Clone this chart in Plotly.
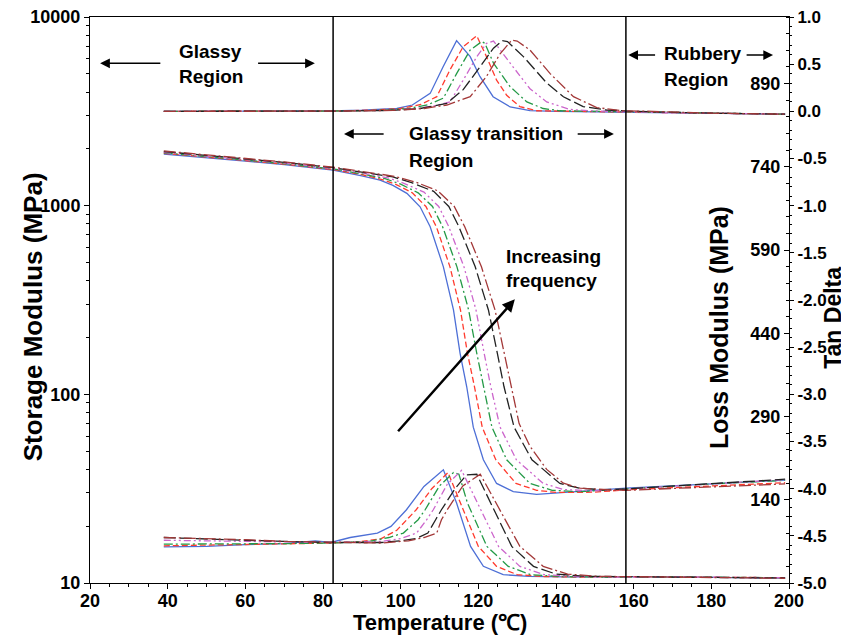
import plotly.graph_objects as go

# ---------------- data ----------------
# (temperature degC, storage modulus MPa)
STORAGE_1 = [(39, 1876), (50, 1800), (60, 1722), (70, 1650), (82.6, 1545), (90, 1440), (94.7, 1367), (98, 1280),
             (101.6, 1162), (105, 986), (107.6, 773), (111, 474), (113.6, 280), (115.3, 165), (117, 110),
             (118.7, 67), (121.3, 45), (124.7, 33.7), (129, 30.5), (135, 29.5), (146, 30.5), (158, 31.8),
             (180, 33.5), (199, 35.1)]
STORAGE_2 = [(39, 1895), (50, 1815), (60, 1735), (70, 1660), (82.6, 1555), (90, 1460), (95, 1380), (99, 1290),
             (103, 1170), (106.5, 990), (109.2, 773), (112.7, 474), (115.4, 280), (117.2, 165), (119, 110),
             (121, 67), (124.5, 45), (129.7, 33.7), (135, 31), (140, 30.2), (150, 30.3), (158, 31.2),
             (180, 32.8), (199, 34)]
STORAGE_3 = [(39, 1905), (50, 1825), (60, 1745), (70, 1670), (82.6, 1565), (90, 1475), (96, 1390), (100, 1300),
             (104.5, 1170), (108.2, 990), (110.8, 773), (114.5, 474), (117.5, 280), (119.6, 165), (121.3, 110),
             (123.5, 67), (127.3, 45), (133.3, 33.7), (139, 31), (146, 30.5), (158, 31.5), (180, 33.5),
             (199, 35)]
STORAGE_4 = [(39, 1915), (50, 1835), (60, 1755), (70, 1680), (82.6, 1575), (90, 1490), (97, 1400), (101, 1310),
             (106, 1180), (109.8, 990), (112.4, 773), (116.3, 474), (119.4, 280), (121.5, 165), (123.2, 110),
             (125.6, 67), (129.8, 45), (136.7, 33.7), (142, 31.3), (150, 30.8), (158, 31.5), (180, 33.5),
             (199, 35.3)]
STORAGE_5 = [(39, 1935), (50, 1850), (60, 1770), (70, 1695), (82.6, 1590), (90, 1510), (98, 1420), (103, 1320),
             (108.5, 1190), (112.4, 990), (115, 773), (119.2, 474), (122.6, 280), (124.9, 165), (126.6, 110),
             (129.2, 67), (133.8, 45), (141, 33.7), (146, 31.8), (152, 31.2), (158, 31.5), (180, 33.6),
             (199, 35.5)]
STORAGE_6 = [(39, 1950), (50, 1865), (60, 1785), (70, 1705), (82.6, 1600), (90, 1520), (98.5, 1430), (104, 1330),
             (109.5, 1200), (113.8, 990), (116.5, 773), (120.8, 474), (124.3, 280), (125.6, 210), (128.6, 110),
             (130.5, 70), (133.3, 53), (137.6, 40), (141.9, 33.8), (146.2, 31.8), (154.8, 31.1), (158, 31),
             (180, 32.3), (199, 33.5)]

# (temperature degC, loss modulus MPa)
LOSS_1 = [(39, 55), (50, 56), (60, 59), (70, 61), (78, 66), (82, 63), (87, 72), (94, 80), (97.5, 92),
          (101.5, 122), (106, 164), (111, 194), (114.4, 134), (118, 56), (121.3, 20), (126.4, 5), (133, 2),
          (142, 1), (160, 1.5), (180, 0), (199, -1)]
LOSS_2 = [(39, 57), (50, 58), (60, 59), (70, 61), (82, 62), (90, 65), (95, 70), (99, 85), (104, 122),
          (108, 160), (112.2, 189), (115.4, 134), (120, 56), (124.7, 20), (130, 5), (137, 1.7), (146, 0.6),
          (160, 1.5), (180, 0), (199, -0.5)]
LOSS_3 = [(39, 60), (50, 60), (60, 60), (70, 61), (82, 62), (92, 65), (97, 72), (100.7, 80), (104.5, 104),
          (106.3, 122), (110, 165), (113.6, 189), (115, 186), (117.2, 134), (122.2, 56), (127.7, 20),
          (133.5, 5), (141, 1.7), (150, 0.6), (165, 1.2), (199, -0.5)]
LOSS_4 = [(39, 67), (50, 66), (60, 64), (70, 63), (82, 63), (95, 65), (100, 70), (104.1, 80), (106.7, 104),
          (108.4, 122), (112, 168), (115.7, 193), (119.8, 134), (125.2, 56), (130.7, 20), (137, 5), (145, 1.7),
          (155, 0.6), (170, 1), (199, -0.5)]
LOSS_5 = [(39, 72), (50, 70), (60, 67), (70, 65), (82, 63), (95, 63), (100, 66), (104, 70), (107, 80),
          (109, 104), (110.5, 122), (114, 160), (117, 185), (119.6, 186), (123.2, 134), (128.6, 56),
          (134.2, 20), (140, 6), (148, 2), (160, 1), (180, 0.5), (199, -1)]
LOSS_6 = [(39, 72), (50, 70), (60, 68), (70, 65), (82, 63), (95, 62), (102, 66), (106, 72), (109.3, 80),
          (110.5, 104), (112, 122), (116, 165), (120.5, 186), (124.5, 134), (130.7, 56), (136.7, 20),
          (143, 6), (151, 2), (165, 1), (180, 0), (199, -1.5)]

# (temperature degC, tan delta)
TAN_1 = [(39, 0.0), (60, 0.0), (82, 0.005), (90, 0.012), (96, 0.022), (99, 0.03), (103, 0.067),
         (107.6, 0.19), (110.9, 0.47), (114.4, 0.75), (117.9, 0.58), (120.4, 0.37), (123.8, 0.155),
         (128.2, 0.046), (133.3, 0.008), (140, 0.0), (160, -0.01), (180, -0.02), (199, -0.03)]
TAN_2 = [(39, 0.0), (60, 0.0), (82, 0.004), (92, 0.012), (100, 0.03), (105, 0.07), (109.3, 0.155),
         (112.7, 0.44), (116.1, 0.685), (119.6, 0.80), (122.1, 0.58), (124.7, 0.33), (127.3, 0.17),
         (130.7, 0.05), (135, 0.006), (145, 0.0), (160, -0.01), (180, -0.02), (199, -0.03)]
TAN_3 = [(39, 0.0), (60, 0.0), (82, 0.003), (94, 0.01), (102, 0.03), (107, 0.07), (111, 0.14),
         (114.4, 0.40), (117.9, 0.65), (120.9, 0.74), (121.7, 0.72), (123.9, 0.51), (128.2, 0.26),
         (132.5, 0.10), (136.7, 0.03), (141, 0.006), (150, 0.0), (170, -0.015), (199, -0.03)]
TAN_4 = [(39, 0.0), (60, 0.0), (82, 0.003), (96, 0.01), (104, 0.03), (109, 0.06), (112.7, 0.10),
         (116.1, 0.33), (119.6, 0.58), (122.1, 0.72), (123.9, 0.745), (128.2, 0.51), (133.3, 0.24),
         (137.6, 0.10), (143.6, 0.02), (150, 0.004), (170, -0.015), (199, -0.03)]
TAN_5 = [(39, 0.0), (60, 0.0), (82, 0.002), (98, 0.01), (105, 0.03), (111.9, 0.085), (116.1, 0.23),
         (120.4, 0.47), (123.9, 0.67), (126.2, 0.75), (127.5, 0.74), (131.6, 0.58), (137.6, 0.30),
         (141.9, 0.155), (147, 0.05), (153, 0.014), (160, 0.0), (180, -0.02), (199, -0.03)]
TAN_6 = [(39, 0.0), (60, 0.0), (82, 0.002), (98, 0.01), (106, 0.03), (111.9, 0.067), (117.9, 0.155),
         (122.1, 0.37), (125.6, 0.61), (128.6, 0.755), (130, 0.745), (133.3, 0.65), (138.5, 0.40),
         (144.5, 0.155), (150.5, 0.04), (157.3, 0.006), (165, 0.0), (180, -0.02), (199, -0.03)]

SERIES_NAMES = ["f1", "f2", "f3", "f4", "f5", "f6"]
STORAGE = [STORAGE_1, STORAGE_2, STORAGE_3, STORAGE_4, STORAGE_5, STORAGE_6]
LOSS = [LOSS_1, LOSS_2, LOSS_3, LOSS_4, LOSS_5, LOSS_6]
TAN = [TAN_1, TAN_2, TAN_3, TAN_4, TAN_5, TAN_6]

X_TICKS = [20, 40, 60, 80, 100, 120, 140, 160, 180, 200]
STORAGE_TICKS = [10, 100, 1000, 10000]
LOSS_TICKS = [140, 290, 440, 590, 740, 890]
TAN_TICKS = [1.0, 0.5, 0.0, -0.5, -1.0, -1.5, -2.0, -2.5, -3.0, -3.5, -4.0, -4.5, -5.0]
TAN_LABELS = ["1.0", "0.5", "0.0", "-0.5", "-1.0", "-1.5", "-2.0", "-2.5", "-3.0", "-3.5", "-4.0", "-4.5", "-5.0"]
REGION_BOUNDS = [82.6, 158.0]

# ---------------- styles ----------------
COLORS = ["#4d6fd6", "#ff3b2e", "#249a47", "#cc66cc", "#222222", "#a33838"]
DASHES = ["solid", "6px,3px", "9px,3px,2px,3px", "7px,3px,2px,3px,2px,3px", "12px,4px", "12px,3px,2px,3px"]
FONT = "Liberation Sans, Arial, Helvetica, sans-serif"
LOG_MINOR = [m * 10 ** d for d in (1, 2, 3) for m in range(2, 10)]

fig = go.Figure()
for i, name in enumerate(SERIES_NAMES):
    line = dict(color=COLORS[i], width=1.3, dash=DASHES[i])
    for data, yax in ((STORAGE[i], "y"), (LOSS[i], "y2"), (TAN[i], "y3")):
        fig.add_trace(go.Scatter(
            x=[p[0] for p in data], y=[p[1] for p in data], mode="lines",
            line=line, name=name, yaxis=yax, showlegend=False, hoverinfo="skip"))

tickfont = dict(family=FONT, size=18, color="black", weight="bold")
axis_common = dict(showline=True, linecolor="black", linewidth=1, showgrid=False, zeroline=False,
                   tickcolor="black", automargin=False, ticklabeloverflow="allow")

# page body has an 8px default margin: figure is 841x628 so the plot lands where the reference has it
fig.update_layout(
    width=841, height=628,
    margin=dict(l=82, r=60, t=9, b=53, autoexpand=False),
    paper_bgcolor="white", plot_bgcolor="white",
    font=dict(family=FONT, color="black"),
    xaxis=dict(range=[19.999, 200.001], tickvals=X_TICKS, ticks="outside", ticklen=5, mirror=True,
               tickfont=tickfont, ticklabelstandoff=-4,
               minor=dict(dtick=5, tick0=0, ticks="outside", ticklen=3, tickcolor="black"),
               **axis_common),
    yaxis=dict(type="log", range=[1, 4], tickvals=STORAGE_TICKS, ticktext=[str(v) for v in STORAGE_TICKS],
               ticks="outside", ticklen=5, tickfont=tickfont,
               minor=dict(tickvals=LOG_MINOR, ticks="outside", ticklen=3, tickcolor="black"),
               **axis_common),
    yaxis2=dict(overlaying="y", side="left", anchor="free", position=1.0, range=[-10, 1010],
                tickvals=LOSS_TICKS, ticks="outside", ticklen=5, tickfont=tickfont,
                minor=dict(dtick=30, tick0=-10, ticks="outside", ticklen=3, tickcolor="black"),
                **axis_common),
    yaxis3=dict(overlaying="y", side="right", anchor="x", range=[-5, 1], tickvals=TAN_TICKS,
                ticktext=TAN_LABELS, ticks="outside", ticklen=4,
                tickfont=dict(family=FONT, size=17, color="black", weight="bold"),
                minor=dict(dtick=0.1, tick0=0, ticks="outside", ticklen=2, tickcolor="black"),
                **axis_common),
)

# region boundaries
for xb in REGION_BOUNDS:
    fig.add_shape(type="line", xref="x", yref="paper", x0=xb, x1=xb, y0=0, y1=1,
                  line=dict(color="black", width=1.5))

# text labels (x in degC, y in tan-delta axis units)
LABELS = [("Glassy", 42.3, 0.632), ("Region", 42.3, 0.367),
          ("Glassy transition", 101.6, -0.240), ("Region", 101.6, -0.516),
          ("Rubbery", 167.2, 0.615), ("Region", 167.2, 0.340),
          ("Increasing", 126.6, -1.534), ("frequency", 126.6, -1.788)]
for txt, xx, yy in LABELS:
    fig.add_annotation(text=txt, x=xx, y=yy, xref="x", yref="y3", xanchor="left",
                       yanchor="middle", showarrow=False,
                       font=dict(family=FONT, size=19, color="black", weight="bold"))

# arrows: (tail x, tail y, head x, head y, width)
ARROWS = [(38.5, 0.509, 22.6, 0.509, 1.5), (62.9, 0.509, 77.9, 0.509, 1.5),
          (96.0, -0.240, 85.4, -0.240, 1.5), (145.2, -0.240, 154.9, -0.240, 1.5),
          (165.9, 0.597, 158.6, 0.597, 1.5), (188.7, 0.597, 195.9, 0.597, 1.5),
          (99.0, -3.407, 129.4, -1.993, 2.5)]
for tx, ty, hx, hy, w in ARROWS:
    fig.add_annotation(x=hx, y=hy, ax=tx, ay=ty, xref="x", yref="y3", axref="x", ayref="y3",
                       text="", showarrow=True, arrowhead=2, arrowsize=1.0 if w > 2 else 1.3,
                       arrowwidth=w, arrowcolor="black")

# axis titles drawn as text: (text, paper x, paper y, angle, size)
TITLES = [("Storage Modulus (MPa)", -0.081, 0.47, -90, 26),
          ("Loss Modulus (MPa)", 0.9, 0.4505, -90, 25),
          ("Tan Delta", 1.0625, 0.468, -90, 23),
          ("Temperature (℃)", 0.5, -0.069, 0, 22)]
for txt, px, py, ang, sz in TITLES:
    fig.add_annotation(text=txt, x=px, y=py, xref="paper", yref="paper", xanchor="center",
                       yanchor="middle", textangle=ang, showarrow=False,
                       font=dict(family=FONT, size=sz, color="black", weight="bold"))

fig.write_html("out.html")
